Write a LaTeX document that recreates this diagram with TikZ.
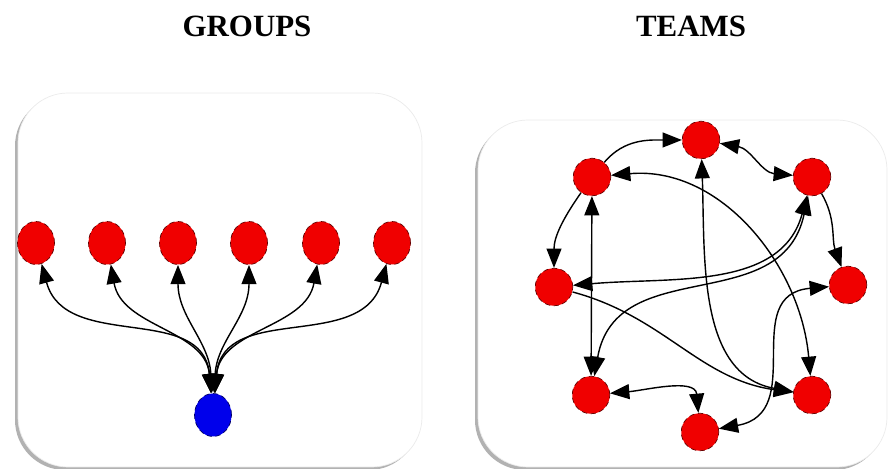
\documentclass[tikz,border=0pt]{standalone}
\usepackage{fontspec}
\setmainfont{Liberation Serif}
\usetikzlibrary{arrows.meta,shapes.geometric}
\definecolor{nodered}{RGB}{240,0,0}
\definecolor{nodeblue}{RGB}{0,0,235}

\begin{document}
\begin{tikzpicture}[x=0.02cm,y=0.02cm,
	title/.style={font=\fontsize{17.6}{20}\selectfont\bfseries},
	panel/.style={fill=white,draw=black!8,rounded corners=1cm},
	shade/.style={fill=black!30,rounded corners=1cm},
	member/.style={ellipse,fill=nodered,draw=red!40!black,densely dashed,line width=0.4pt,minimum width=0.74cm,minimum height=0.86cm,inner sep=0pt},
	leader/.style={member,fill=nodeblue,draw=blue!40!black},
	mate/.style={circle,fill=nodered,draw=red!40!black,densely dashed,line width=0.4pt,minimum size=0.75cm,inner sep=0pt},
	link/.style={line width=0.8pt,{Triangle[length=11pt,width=8.5pt]}-{Triangle[length=11pt,width=8.5pt]}},
	tolink/.style={line width=0.8pt,-{Triangle[length=11pt,width=8.5pt]}}]
			\useasboundingbox (0,0) rectangle (888,469);
			\node[title] (groups) at (247,443) {GROUPS};
			\node[title] (teams) at (691,443) {TEAMS};

			% panels
			\fill[shade] (15,-1) rectangle (419,373);
			\draw[panel] (18,2) rectangle (422,376);
			\fill[shade] (475,-1) rectangle (884,346);
			\draw[panel] (478,2) rectangle (887,349);

			% groups
			\node[member] (g1) at (36,226) {};
			\node[member] (g2) at (107,226) {};
			\node[member] (g3) at (178,226) {};
			\node[member] (g4) at (249,226) {};
			\node[member] (g5) at (321,226) {};
			\node[member] (g6) at (392,226) {};
			\node[leader] (boss) at (213,54) {};

			\draw[link] (boss) to[out=95,in=-75,looseness=1.1] (g1);
			\draw[link] (boss) to[out=95,in=-80] (g2);
			\draw[link] (boss) to[out=93,in=-90] (g3);
			\draw[link] (boss) to[out=87,in=-90] (g4);
			\draw[link] (boss) to[out=85,in=-100] (g5);
			\draw[link] (boss) to[out=85,in=-105,looseness=1.1] (g6);

			% teams
			\node[mate] (t1) at (701,329) {};
			\node[mate] (t2) at (592,292) {};
			\node[mate] (t3) at (812,292) {};
			\node[mate] (t4) at (554,182) {};
			\node[mate] (t5) at (848,184) {};
			\node[mate] (t6) at (591,74) {};
			\node[mate] (t7) at (812,74) {};
			\node[mate] (t8) at (700,37) {};

			\draw[tolink] (t2) to[out=50,in=180] (t1);
			\draw[tolink] (t2) to[out=235,in=90] (t4);
			\draw[link] (t1) to[out=-10,in=175] (t3);
			\draw[tolink] (t3) to[out=-60,in=110] (t5);
			\draw[link] (t3) to[out=-105,in=5] (t4);
			\draw[link] (t3) to[out=-102,in=80,looseness=1.15] (t6);
			\draw[link] (t2) -- (t6);
			\draw[link] (t2) to[out=5,in=95] (t7);
			\draw[link] (t1) to[out=-88,in=170] (t7);
			\draw[tolink] (t4) to[out=-15,in=172] (t7);
			\draw[link] (t5) to[out=185,in=10,looseness=1.3] (t8);
			\draw[link] (t6) to[out=5,in=95] (t8);
\end{tikzpicture}
\end{document}
